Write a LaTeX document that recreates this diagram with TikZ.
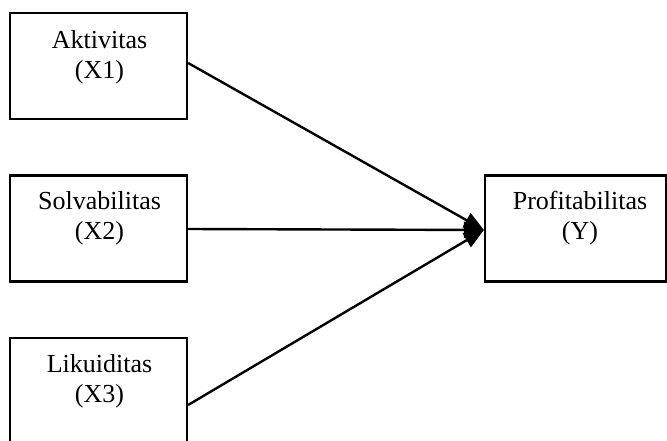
\documentclass[tikz,border=0pt]{standalone}
\usepackage{fontspec}
\setmainfont{Liberation Serif}
\usetikzlibrary{arrows.meta}
\begin{document}
\begin{tikzpicture}[x=1pt,y=-1pt,
  box/.style={draw=black,line width=2.2pt,minimum width=177pt,minimum height=106pt,inner sep=0pt,fill=white},
  lbl/.style={align=center,inner sep=0pt,anchor=base,font=\fontsize{26}{30}\selectfont},
  conn/.style={line width=2.4pt,-{Triangle[length=20pt,width=16pt]}}]
\useasboundingbox (0,0) rectangle (667,441);
\clip (0,0) rectangle (667,441);
\node[box] (x1) at (98.5,66) {};
\node[box] (x2) at (98.5,228.5) {};
\node[box] (x3) at (98.5,391) {};
\node[box,minimum width=181pt] (y) at (575.5,228.5) {};
\node[lbl] (x1t) at (99.5,79) {Aktivitas\\(X1)};
\node[lbl] (x2t) at (99.5,240) {Solvabilitas\\(X2)};
\node[lbl] (x3t) at (99.5,402) {Likuiditas\\(X3)};
\node[lbl] (yt) at (580,240) {Profitabilitas\\(Y)};
\draw[conn] ([yshift=3pt]x1.east) -- ([yshift=-1.5pt]y.west);
\draw[conn] ([yshift=-0.5pt]x2.east) -- ([yshift=-1.5pt]y.west);
\draw[conn] ([yshift=-14pt]x3.east) -- ([yshift=-1.5pt]y.west);
\end{tikzpicture}
\end{document}
